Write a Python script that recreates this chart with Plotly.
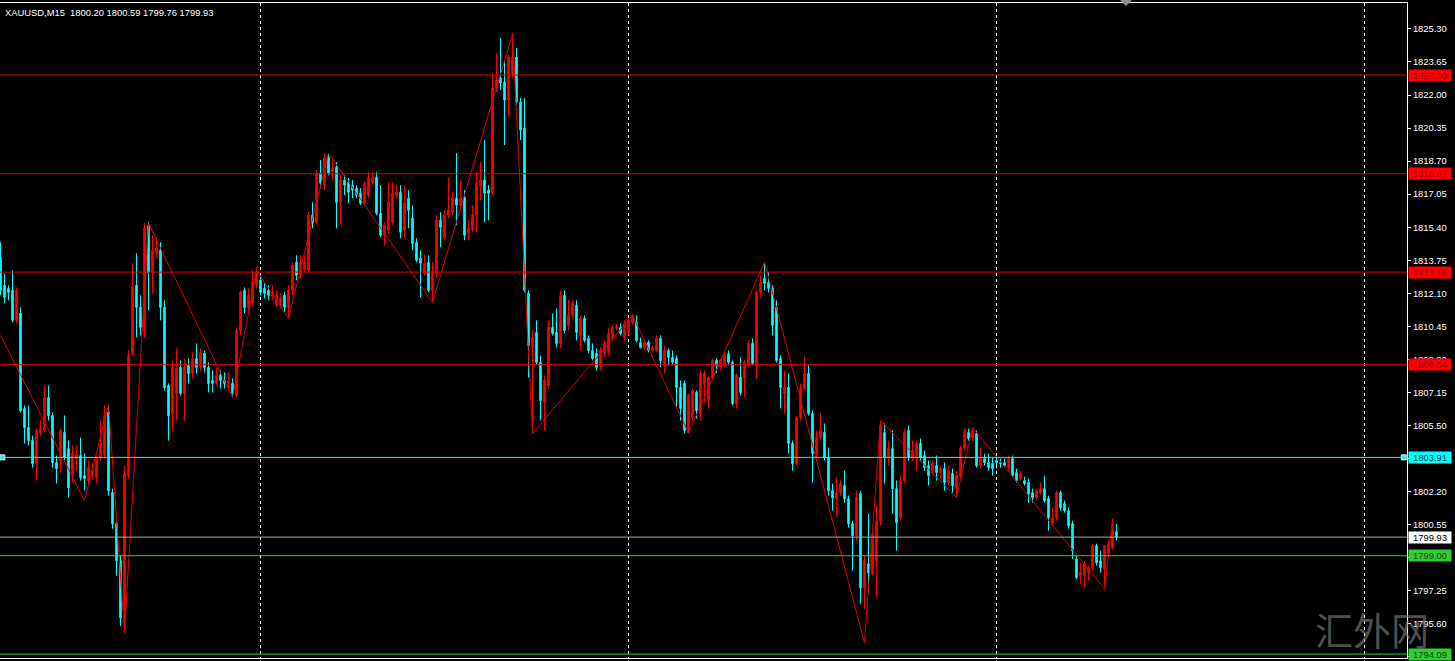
import plotly.graph_objects as go

# ---------------- data ----------------
title_text = "XAUUSD,M15  1800.20 1800.59 1799.76 1799.93"

bar_index = list(range(280))

opens = [
    1813.90, 1812.50, 1812.35, 1812.25, 1810.75, 1811.10, 1806.35, 1805.40, 1804.75, 1803.60,
    1805.15, 1805.25, 1806.90, 1806.00, 1803.65, 1803.75, 1805.15, 1804.35, 1803.10, 1803.85,
    1804.00, 1803.00, 1802.75, 1803.00, 1802.90, 1803.90, 1804.00, 1806.15, 1802.15, 1800.60,
    1798.75, 1796.25, 1803.00, 1809.10, 1812.50, 1811.40, 1810.40, 1815.50, 1813.15, 1814.10,
    1814.25, 1811.40, 1807.50, 1806.10, 1807.10, 1808.40, 1807.10, 1808.50, 1808.10, 1808.85,
    1808.40, 1809.10, 1808.40, 1807.75, 1807.60, 1808.00, 1807.75, 1807.60, 1807.60, 1807.00,
    1810.25, 1812.25, 1811.40, 1811.60, 1812.50, 1812.75, 1812.35, 1812.25, 1811.95, 1811.50,
    1811.60, 1812.00, 1811.40, 1812.25, 1813.65, 1813.00, 1813.25, 1813.25, 1816.00, 1815.65,
    1818.10, 1817.50, 1818.90, 1818.15, 1818.40, 1816.65, 1817.75, 1817.65, 1817.50, 1817.35,
    1817.10, 1816.60, 1817.00, 1817.65, 1817.90, 1816.10, 1815.00, 1815.25, 1815.65, 1817.00,
    1817.15, 1815.25, 1816.85, 1815.85, 1814.65, 1813.85, 1813.10, 1813.65, 1812.25, 1813.10,
    1815.75, 1814.90, 1816.00, 1816.15, 1816.85, 1816.50, 1816.90, 1815.10, 1815.25, 1816.00,
    1817.50, 1817.75, 1817.25, 1817.10, 1822.35, 1822.85, 1822.65, 1821.75, 1823.00, 1823.90,
    1821.65, 1820.35, 1812.10, 1809.40, 1810.15, 1808.65, 1806.65, 1807.50, 1810.40, 1810.15,
    1809.60, 1812.00, 1810.50, 1811.00, 1811.50, 1810.00, 1810.85, 1809.85, 1809.25, 1809.10,
    1808.50, 1809.10, 1809.15, 1809.85, 1810.35, 1810.40, 1809.90, 1810.15, 1810.65, 1810.65,
    1809.65, 1809.40, 1809.65, 1809.25, 1809.25, 1809.85, 1808.50, 1809.25, 1808.90, 1808.85,
    1807.40, 1807.60, 1805.15, 1805.90, 1807.15, 1806.10, 1807.60, 1806.75, 1807.90, 1808.75,
    1808.40, 1808.50, 1809.10, 1808.65, 1806.60, 1807.90, 1807.90, 1808.50, 1809.60, 1808.50,
    1812.15, 1812.85, 1812.65, 1812.35, 1811.40, 1808.85, 1807.10, 1807.40, 1804.60, 1803.60,
    1805.90, 1807.35, 1808.10, 1806.10, 1804.10, 1804.90, 1805.15, 1803.90, 1802.25, 1801.85,
    1802.15, 1802.50, 1801.85, 1800.60, 1800.00, 1802.10, 1797.40, 1798.60, 1798.10, 1798.75,
    1800.75, 1805.15, 1803.90, 1804.35, 1802.35, 1800.90, 1802.75, 1805.25, 1803.90, 1804.00,
    1804.60, 1804.00, 1803.50, 1803.25, 1803.50, 1803.15, 1803.35, 1802.65, 1803.10, 1802.35,
    1803.00, 1804.40, 1805.15, 1804.90, 1805.10, 1803.50, 1803.85, 1803.65, 1803.60, 1803.75,
    1803.65, 1803.65, 1803.40, 1803.85, 1803.15, 1802.85, 1802.75, 1802.65, 1802.15, 1801.90,
    1802.15, 1802.35, 1801.85, 1800.65, 1800.90, 1802.15, 1801.60, 1801.25, 1800.60, 1798.85,
    1798.00, 1798.00, 1798.15, 1798.40, 1799.50, 1798.75, 1798.35, 1799.10, 1799.40, 1800.20,
]

highs = [
    1814.65, 1813.10, 1812.50, 1813.25, 1812.40, 1811.40, 1806.50, 1806.50, 1805.00, 1805.35,
    1805.75, 1807.50, 1807.50, 1806.15, 1804.00, 1805.35, 1806.00, 1804.75, 1804.50, 1804.50,
    1804.90, 1804.10, 1803.75, 1803.65, 1804.00, 1805.75, 1806.50, 1806.50, 1802.35, 1800.75,
    1799.00, 1803.50, 1809.25, 1813.60, 1814.10, 1812.00, 1815.60, 1815.65, 1815.00, 1814.90,
    1814.65, 1811.75, 1807.60, 1808.75, 1809.35, 1808.75, 1808.85, 1808.85, 1809.15, 1809.60,
    1809.35, 1809.25, 1808.65, 1808.25, 1808.40, 1808.25, 1808.15, 1808.15, 1807.85, 1810.35,
    1812.25, 1812.40, 1812.35, 1813.25, 1813.40, 1813.00, 1812.60, 1812.50, 1812.50, 1812.25,
    1812.10, 1812.15, 1812.50, 1813.65, 1814.00, 1814.00, 1814.00, 1816.15, 1816.65, 1818.25,
    1818.75, 1819.10, 1819.10, 1818.75, 1818.65, 1818.00, 1818.00, 1817.85, 1817.75, 1817.50,
    1817.35, 1817.70, 1818.15, 1818.15, 1818.15, 1817.50, 1815.65, 1817.65, 1817.65, 1817.50,
    1817.50, 1817.50, 1817.25, 1816.50, 1814.85, 1814.25, 1814.00, 1814.00, 1813.65, 1816.00,
    1816.15, 1816.25, 1817.90, 1817.15, 1819.10, 1817.75, 1817.25, 1815.75, 1816.50, 1818.15,
    1818.65, 1819.75, 1817.50, 1823.10, 1824.10, 1824.85, 1823.75, 1824.00, 1825.10, 1824.35,
    1821.85, 1821.85, 1812.25, 1810.25, 1810.75, 1809.00, 1808.00, 1810.75, 1811.10, 1811.35,
    1812.25, 1812.25, 1811.75, 1811.75, 1811.75, 1811.00, 1811.00, 1810.00, 1809.60, 1809.35,
    1809.40, 1809.75, 1810.35, 1810.50, 1810.60, 1810.60, 1810.75, 1810.85, 1811.05, 1811.00,
    1809.90, 1809.75, 1809.75, 1809.50, 1810.00, 1810.00, 1809.50, 1809.35, 1809.25, 1809.00,
    1807.75, 1807.75, 1807.10, 1807.35, 1807.25, 1808.25, 1808.25, 1808.00, 1808.85, 1808.85,
    1808.85, 1809.15, 1809.25, 1808.75, 1808.10, 1808.90, 1808.75, 1809.75, 1809.85, 1812.25,
    1813.00, 1813.60, 1813.15, 1812.50, 1811.75, 1809.00, 1808.25, 1808.10, 1804.75, 1806.00,
    1807.60, 1808.90, 1808.50, 1806.25, 1805.25, 1806.10, 1805.60, 1804.40, 1802.60, 1802.90,
    1802.75, 1803.25, 1802.00, 1800.75, 1802.25, 1802.25, 1799.00, 1801.10, 1800.25, 1801.50,
    1805.75, 1805.60, 1804.75, 1805.25, 1802.75, 1803.00, 1805.35, 1805.50, 1804.75, 1804.75,
    1804.85, 1804.25, 1803.75, 1803.75, 1804.00, 1803.50, 1803.65, 1803.50, 1803.35, 1803.25,
    1804.50, 1805.35, 1805.35, 1805.40, 1805.25, 1804.40, 1804.10, 1804.10, 1803.90, 1804.00,
    1803.85, 1803.85, 1804.00, 1804.00, 1803.35, 1803.25, 1802.95, 1802.85, 1802.35, 1802.35,
    1802.65, 1803.00, 1802.00, 1801.40, 1802.25, 1802.25, 1801.75, 1801.40, 1800.75, 1799.10,
    1798.65, 1798.75, 1798.50, 1799.60, 1799.60, 1799.25, 1799.55, 1799.75, 1800.85, 1800.59,
]

lows = [
    1812.00, 1811.60, 1811.75, 1810.65, 1810.60, 1806.15, 1804.60, 1804.50, 1803.40, 1802.75,
    1805.00, 1805.15, 1805.75, 1803.40, 1802.60, 1803.15, 1803.75, 1801.90, 1802.65, 1803.25,
    1802.75, 1802.25, 1802.50, 1802.85, 1802.60, 1803.75, 1803.85, 1802.00, 1800.35, 1798.00,
    1795.50, 1795.10, 1802.85, 1809.00, 1809.90, 1810.00, 1809.90, 1811.25, 1812.10, 1813.85,
    1810.75, 1807.25, 1804.75, 1805.25, 1805.75, 1807.00, 1805.75, 1807.60, 1807.85, 1808.10,
    1808.25, 1808.15, 1807.15, 1807.15, 1807.50, 1807.35, 1807.35, 1807.25, 1806.90, 1806.90,
    1810.00, 1811.10, 1811.10, 1811.50, 1812.35, 1812.00, 1811.85, 1811.75, 1811.75, 1811.40,
    1811.35, 1811.15, 1810.85, 1812.00, 1812.75, 1812.85, 1813.15, 1813.15, 1815.35, 1815.50,
    1817.35, 1817.25, 1818.00, 1817.75, 1815.35, 1815.50, 1817.00, 1816.60, 1816.85, 1816.85,
    1816.50, 1816.50, 1816.85, 1817.50, 1816.00, 1814.90, 1814.50, 1815.10, 1815.50, 1816.85,
    1814.85, 1814.85, 1815.35, 1814.25, 1813.65, 1811.90, 1813.00, 1812.15, 1811.65, 1812.85,
    1814.40, 1814.75, 1815.85, 1816.00, 1815.50, 1816.25, 1814.75, 1814.75, 1815.15, 1815.15,
    1816.75, 1815.65, 1815.75, 1817.00, 1822.15, 1822.25, 1819.50, 1820.90, 1822.85, 1821.50,
    1819.75, 1812.15, 1807.90, 1805.10, 1808.50, 1805.75, 1805.25, 1807.35, 1810.00, 1809.40,
    1809.35, 1810.10, 1810.25, 1810.85, 1809.75, 1809.25, 1809.65, 1809.10, 1808.75, 1808.25,
    1808.25, 1808.95, 1809.00, 1809.75, 1810.25, 1810.00, 1809.75, 1810.00, 1810.55, 1809.65,
    1809.35, 1809.25, 1809.15, 1809.15, 1809.15, 1808.40, 1808.10, 1808.50, 1808.50, 1806.40,
    1805.75, 1805.10, 1805.10, 1805.75, 1805.85, 1805.75, 1806.65, 1806.35, 1807.75, 1808.10,
    1808.25, 1808.40, 1808.50, 1806.50, 1806.35, 1807.00, 1806.90, 1808.40, 1808.50, 1807.85,
    1811.90, 1812.25, 1812.15, 1810.00, 1808.65, 1806.35, 1806.10, 1804.10, 1803.25, 1803.50,
    1805.75, 1807.25, 1806.00, 1802.65, 1803.85, 1804.75, 1803.75, 1802.00, 1801.25, 1800.90,
    1802.00, 1801.65, 1800.40, 1798.25, 1799.75, 1796.60, 1796.35, 1797.15, 1798.00, 1796.90,
    1800.50, 1802.60, 1803.50, 1801.10, 1799.25, 1800.75, 1802.60, 1803.75, 1803.75, 1803.25,
    1803.75, 1803.25, 1802.50, 1803.00, 1802.75, 1802.85, 1802.25, 1802.50, 1802.15, 1801.90,
    1802.85, 1804.25, 1804.75, 1804.75, 1803.40, 1803.35, 1803.50, 1803.25, 1803.00, 1803.50,
    1803.40, 1803.40, 1803.25, 1802.90, 1802.65, 1802.75, 1802.50, 1801.65, 1801.65, 1801.80,
    1802.05, 1801.65, 1800.25, 1800.55, 1800.75, 1801.25, 1801.15, 1800.35, 1798.85, 1797.85,
    1797.60, 1797.40, 1797.75, 1798.25, 1798.50, 1798.15, 1797.35, 1798.95, 1799.30, 1799.76,
]

closes = [
    1812.25, 1811.90, 1812.15, 1810.75, 1812.25, 1806.25, 1805.40, 1804.75, 1803.60, 1805.25,
    1805.35, 1806.90, 1806.00, 1803.65, 1803.35, 1805.25, 1803.90, 1802.40, 1804.10, 1804.05,
    1802.90, 1802.85, 1803.40, 1803.25, 1803.90, 1804.60, 1806.00, 1802.25, 1800.60, 1798.75,
    1795.90, 1803.10, 1809.00, 1812.40, 1811.40, 1810.40, 1815.35, 1813.15, 1814.25, 1814.35,
    1811.40, 1807.40, 1806.00, 1808.40, 1808.35, 1807.10, 1808.40, 1808.10, 1808.85, 1808.40,
    1809.15, 1808.40, 1807.60, 1807.60, 1808.00, 1807.75, 1807.60, 1807.70, 1807.10, 1810.25,
    1812.15, 1811.40, 1812.00, 1812.65, 1813.15, 1812.15, 1812.10, 1812.00, 1812.15, 1812.00,
    1811.85, 1811.40, 1812.25, 1813.50, 1813.00, 1813.65, 1813.65, 1816.00, 1815.60, 1818.10,
    1817.60, 1818.85, 1818.10, 1818.35, 1816.65, 1817.75, 1817.50, 1817.15, 1817.25, 1817.00,
    1816.60, 1817.60, 1817.90, 1817.85, 1816.10, 1815.00, 1815.50, 1816.65, 1817.10, 1817.15,
    1815.15, 1816.60, 1816.25, 1814.60, 1813.75, 1813.60, 1813.60, 1812.25, 1813.15, 1815.75,
    1815.40, 1816.00, 1816.25, 1816.85, 1816.50, 1816.85, 1815.00, 1815.35, 1816.00, 1817.60,
    1817.75, 1817.10, 1817.10, 1822.35, 1822.75, 1822.60, 1821.75, 1823.90, 1823.90, 1821.65,
    1820.25, 1812.25, 1809.50, 1809.90, 1808.65, 1806.75, 1807.75, 1810.40, 1810.10, 1809.60,
    1812.00, 1810.25, 1811.00, 1811.60, 1810.15, 1810.85, 1809.75, 1809.25, 1808.85, 1808.40,
    1809.25, 1809.60, 1810.10, 1810.40, 1810.40, 1810.10, 1810.60, 1810.75, 1811.00, 1809.75,
    1809.40, 1809.65, 1809.25, 1809.35, 1809.85, 1808.75, 1809.25, 1808.90, 1808.65, 1807.40,
    1806.35, 1805.25, 1807.00, 1807.25, 1806.25, 1808.10, 1808.10, 1807.90, 1808.75, 1808.50,
    1808.75, 1809.00, 1808.65, 1806.60, 1808.00, 1807.15, 1808.65, 1809.60, 1808.60, 1812.15,
    1812.65, 1812.60, 1812.35, 1810.50, 1808.75, 1807.40, 1807.40, 1804.60, 1803.60, 1805.90,
    1807.35, 1808.10, 1806.10, 1804.10, 1804.90, 1805.25, 1803.90, 1802.25, 1801.90, 1802.15,
    1802.60, 1801.85, 1800.60, 1800.00, 1801.90, 1797.40, 1798.75, 1798.15, 1800.10, 1800.75,
    1805.50, 1803.90, 1804.35, 1802.35, 1800.65, 1802.75, 1805.15, 1803.90, 1804.25, 1804.60,
    1803.90, 1803.40, 1803.00, 1803.60, 1803.15, 1803.35, 1802.65, 1803.25, 1802.50, 1803.00,
    1804.35, 1805.15, 1804.85, 1805.15, 1803.50, 1803.85, 1803.65, 1803.40, 1803.35, 1803.65,
    1803.60, 1803.50, 1803.85, 1803.00, 1802.75, 1803.10, 1802.60, 1802.10, 1801.90, 1802.25,
    1802.35, 1801.75, 1800.90, 1800.90, 1802.15, 1801.40, 1801.25, 1800.50, 1799.25, 1797.90,
    1798.15, 1798.60, 1798.40, 1799.50, 1798.65, 1798.40, 1799.50, 1799.60, 1800.25, 1799.93,
]

# ZigZag indicator vertices (bar index, price)
zigzag_bars = [0, 21, 27, 31, 37, 58, 64, 72, 82, 108, 128, 133, 158, 172, 191, 216, 220, 239, 243, 276, 278]
zigzag_prices = [1810.00, 1801.75, 1806.55, 1795.15, 1815.60, 1806.90, 1813.25, 1810.85, 1819.10,
                 1811.65, 1825.05, 1805.10, 1811.00, 1805.15, 1813.65, 1794.65, 1805.75, 1801.90,
                 1805.40, 1797.35, 1800.85]

# horizontal levels
red_levels = [1823.00, 1818.07, 1813.16, 1808.54]
cyan_level = 1803.91
last_price = 1799.93
green_levels = [1799.00, 1794.09]

# price-axis tick labels
y_ticks = [1825.30, 1823.65, 1822.00, 1820.35, 1818.70, 1817.05, 1815.40, 1813.75, 1812.10,
           1810.45, 1808.80, 1807.15, 1805.50, 1803.85, 1802.20, 1800.55, 1798.90, 1797.25,
           1795.60, 1793.95]
y_tick_text = ["%.2f" % v for v in y_ticks]

# vertical (time) grid positions, in bars
x_grid = [65, 157, 249, 341]

# ---------------- styling ----------------
BULL = "#FF0000"
BEAR = "#00FFFF"
RED_LINE = "#E00000"
GREEN = "#32CD32"
CYAN_LINE = "#3FE0E0"
GRAY_LINE = "#A8A8A8"
FONT = "Liberation Sans"
FSIZE = 9.4

x_range = [-0.125, 351.625]
y_range = [1793.894, 1826.595]

fig = go.Figure()

fig.add_trace(go.Candlestick(
    x=bar_index, open=opens, high=highs, low=lows, close=closes,
    increasing=dict(line=dict(color=BULL, width=1), fillcolor=BULL),
    decreasing=dict(line=dict(color=BEAR, width=1), fillcolor=BEAR),
    whiskerwidth=0, hoverinfo="skip", showlegend=False,
))

fig.add_trace(go.Scatter(
    x=zigzag_bars, y=zigzag_prices, mode="lines",
    line=dict(color=RED_LINE, width=1), hoverinfo="skip", showlegend=False,
))

shapes = []
for lv in red_levels:
    shapes.append(dict(type="line", xref="paper", yref="y", x0=0, x1=1, y0=lv, y1=lv,
                       line=dict(color=RED_LINE, width=1), layer="above"))
shapes.append(dict(type="line", xref="paper", yref="y", x0=0, x1=1, y0=cyan_level, y1=cyan_level,
                   line=dict(color=CYAN_LINE, width=1), layer="above"))
shapes.append(dict(type="line", xref="paper", yref="y", x0=0, x1=1, y0=last_price, y1=last_price,
                   line=dict(color=GRAY_LINE, width=1), layer="above"))
for lv in green_levels:
    shapes.append(dict(type="line", xref="paper", yref="y", x0=0, x1=1, y0=lv, y1=lv,
                       line=dict(color=GREEN, width=1), layer="above"))
# chart-shift marker at top
shapes.append(dict(type="path", xref="paper", yref="paper",
                   path="M 0.7960 1.0046 L 0.8045 1.0046 L 0.8003 0.9954 Z",
                   fillcolor="#8C8C8C", line=dict(width=0)))

# anchor squares of the cyan level line
fig.add_trace(go.Scatter(
    x=[x_range[0] + 0.6, x_range[1] - 0.8], y=[cyan_level, cyan_level], mode="markers",
    marker=dict(symbol="square", size=5, color=CYAN_LINE, line=dict(color="#D0FFFF", width=1)),
    cliponaxis=False, hoverinfo="skip", showlegend=False,
))

annotations = []


def price_tag(value, bg, fg):
    return dict(xref="paper", yref="y", x=1, y=value, xanchor="left", yanchor="middle",
                xshift=1, text="%.2f" % value, showarrow=False, bgcolor=bg,
                font=dict(family=FONT, size=FSIZE, color=fg), width=42, height=11,
                borderpad=0, align="center")


for lv in red_levels:
    annotations.append(price_tag(lv, "#FF0000", "#9A0000"))
annotations.append(price_tag(cyan_level, "#00FFFF", "#003C3C"))
annotations.append(price_tag(last_price, "#FFFFFF", "#000000"))
for lv in green_levels:
    annotations.append(price_tag(lv, GREEN, "#0A4A0A"))

annotations.append(dict(xref="paper", yref="paper", x=0, y=1, xanchor="left", yanchor="top",
                        xshift=3, yshift=-2, text=title_text, showarrow=False,
                        font=dict(family=FONT, size=FSIZE, color="#FFFFFF")))

annotations.append(dict(xref="paper", yref="paper", x=0.975, y=0.045, xanchor="center",
                        yanchor="middle", text="汇外网", showarrow=False,
                        font=dict(family="Noto Sans CJK SC", size=38, color="rgba(125,125,125,0.65)")))

fig.update_layout(
    width=1455, height=661, autosize=False,
    margin=dict(l=0, r=48, t=3, b=3),
    paper_bgcolor="#000000", plot_bgcolor="#000000",
    boxgap=0.45,
    shapes=shapes, annotations=annotations,
    hovermode=False,
    xaxis=dict(range=x_range, rangeslider=dict(visible=False), showticklabels=False,
               tickvals=x_grid, ticks="", showgrid=True, gridcolor="#FFFFFF", gridwidth=1,
               griddash="3px,3px", zeroline=False, showline=True, mirror=True,
               linecolor="#FFFFFF", linewidth=1, fixedrange=True),
    yaxis=dict(range=y_range, side="right", tickvals=y_ticks, ticktext=y_tick_text,
               showgrid=False, zeroline=False, ticks="outside", ticklen=3,
               tickcolor="#FFFFFF", tickfont=dict(family=FONT, size=FSIZE, color="#FFFFFF"),
               showline=True, mirror=True, linecolor="#FFFFFF", linewidth=1, fixedrange=True),
)

fig.write_html("out.html", config={"displayModeBar": False},
               post_script="document.body.style.margin='0px';document.body.style.overflow='hidden';")
